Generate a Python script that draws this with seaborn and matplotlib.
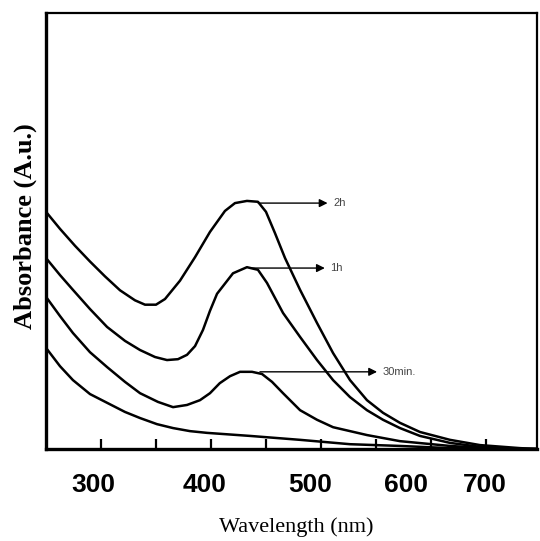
import matplotlib
matplotlib.use("Agg")
import matplotlib.pyplot as plt
import seaborn as sns
import pandas as pd

# ---- data (wavelength in nm, absorbance in arbitrary units) ----
wl_2h = [250, 262.7, 276.4, 290, 303.6, 317.3, 330.9, 340, 350, 358.2, 371.8, 385.5, 399.1, 412.7, 421.8,
         432.7, 442.7, 450, 458.2, 467.3, 481, 496.4, 511, 526.4, 541.8, 556.4, 571.8, 590, 617.3, 644.5, 681, 696]
ab_2h = [0.544, 0.505, 0.466, 0.430, 0.396, 0.364, 0.341, 0.331, 0.331, 0.344, 0.386, 0.440, 0.498, 0.546, 0.564,
         0.569, 0.567, 0.544, 0.495, 0.438, 0.365, 0.289, 0.220, 0.158, 0.112, 0.083, 0.060, 0.039, 0.021, 0.009, 0.002, 0.0]

wl_1h = [250, 262.7, 274.5, 290, 305.5, 321.8, 335.5, 349.1, 360, 370, 378.2, 385.5, 392.7, 399.1, 405.5,
         420, 432.7, 442.7, 450.9, 465.5, 481, 496.4, 511, 526.4, 541.8, 556.4, 571.8, 590, 617.3, 644.5, 681, 696]
ab_1h = [0.438, 0.399, 0.365, 0.321, 0.280, 0.248, 0.227, 0.211, 0.204, 0.206, 0.216, 0.236, 0.273, 0.317, 0.356,
         0.403, 0.417, 0.411, 0.381, 0.312, 0.257, 0.204, 0.158, 0.119, 0.089, 0.067, 0.048, 0.030, 0.014, 0.005, 0.0, 0.0]

wl_30 = [250, 262.7, 274.5, 290, 305.5, 321.8, 335.5, 351.8, 365.5, 378.2, 390, 399.1, 408, 417.3, 426.4,
         437.3, 446.4, 455.5, 465.5, 481, 496.4, 511, 526.4, 541.8, 571.8, 617.3, 663.6, 696]
ab_30 = [0.349, 0.305, 0.266, 0.222, 0.188, 0.154, 0.128, 0.108, 0.096, 0.101, 0.112, 0.128, 0.151, 0.167, 0.177,
         0.177, 0.172, 0.154, 0.128, 0.089, 0.067, 0.050, 0.041, 0.032, 0.018, 0.007, 0.0, 0.0]

wl_0 = [250, 262.7, 274.5, 290, 305.5, 321.8, 335.5, 350.9, 365.5, 380.9, 396.4, 435.5, 481, 526.4, 571.8, 617.3, 663.6, 696]
ab_0 = [0.232, 0.190, 0.158, 0.126, 0.106, 0.085, 0.071, 0.057, 0.048, 0.041, 0.037, 0.030, 0.021, 0.011, 0.007, 0.002, 0.0, 0.0]

series_names = ["2h", "1h", "30min.", "0"]
label_names = ["2h", "1h", "30min."]
arrow_start_wl = [443, 435.5, 444.5]
arrow_end_wl = [506, 503.5, 551]
arrow_level = [0.564, 0.415, 0.177]

tick_labels = ["300", "400", "500", "600", "700"]
tick_label_pos = [292.7, 394.5, 490.0, 577.3, 649.0]
minor_ticks = [300, 350, 400, 450, 500, 550, 600, 650]

frames = []
for name, wl, ab in zip(series_names, [wl_2h, wl_1h, wl_30, wl_0], [ab_2h, ab_1h, ab_30, ab_0]):
    frames.append(pd.DataFrame({"wl": wl, "ab": ab, "series": name}))
df = pd.concat(frames, ignore_index=True)

sns.set_style("white")
fig = plt.figure(figsize=(5.4, 5.41), dpi=100)
ax = fig.add_axes([46 / 540, (541 - 449) / 541, (537 - 46) / 540, (449 - 13) / 541])

sns.lineplot(data=df, x="wl", y="ab", hue="series", palette=["black"] * 4,
             estimator=None, sort=False, linewidth=1.8, legend=False, ax=ax)

ax.set_xlim(250, 696.4)
ax.set_ylim(0, 1.0)

for s, w in [("left", 2.4), ("bottom", 2.4), ("top", 1.6), ("right", 1.6)]:
    ax.spines[s].set_visible(True)
    ax.spines[s].set_color("black")
    ax.spines[s].set_linewidth(w)

ax.set_yticks([])
ax.set_xticks(tick_label_pos)
ax.set_xticklabels(tick_labels, fontfamily="Liberation Sans", fontweight="bold", fontsize=19, color="black")
ax.set_xticks(minor_ticks, minor=True)
ax.tick_params(axis="x", which="both", bottom=True)
ax.tick_params(axis="x", which="major", length=0, pad=17)
ax.tick_params(axis="x", which="minor", direction="in", length=7, width=1.6, color="black")

for name, x0, x1, yv in zip(label_names, arrow_start_wl, arrow_end_wl, arrow_level):
    ax.annotate("", xy=(x1, yv), xytext=(x0, yv),
                arrowprops=dict(arrowstyle="-|>", color="black", lw=1.0, mutation_scale=12,
                                shrinkA=0, shrinkB=0))
    ax.text(x1 + 5, yv, name, fontsize=8, color="#444444", ha="left", va="center",
            fontfamily="Liberation Sans")

ax.set_xlabel("Wavelength (nm)", fontfamily="Liberation Serif", fontsize=16, va="center", color="black")
ax.xaxis.set_label_coords(0.510, -(527 - 449) / 436)
ax.set_ylabel("Absorbance (A.u.)", fontfamily="Liberation Serif", fontweight="bold", fontsize=19,
              va="center", color="black")
ax.yaxis.set_label_coords(-(46 - 25) / 491, (449 - 226) / 436)

fig.savefig("out.png", dpi=100, facecolor="white")
